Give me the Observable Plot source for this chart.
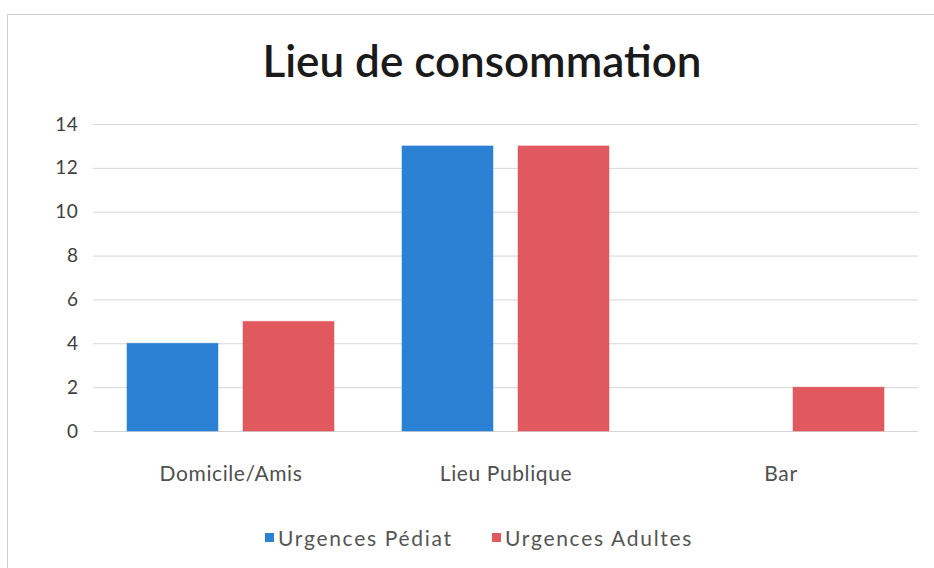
<!DOCTYPE html>
<html>
<head>
<meta charset="utf-8">
<script src="https://cdn.jsdelivr.net/npm/d3@7"></script>
<script src="https://cdn.jsdelivr.net/npm/@observablehq/plot@0.6"></script>
<style>
  html, body { margin: 0; padding: 0; background: #ffffff; }
  body { position: relative; width: 934px; height: 568px; overflow: hidden; font-family: Lato, "Open Sans", sans-serif; }
  #frame { position: absolute; left: 7px; top: 14px; width: 940px; height: 600px; border-left: 1px solid #cfcfcf; border-top: 1px solid #cfcfcf; }
  #title { position: absolute; left: 0; width: 964px; top: 38px; text-align: center; font-size: 44px; font-weight: 600; color: #1a1a1a; line-height: 1; }
  #chart { position: absolute; left: 0; top: 100px; }
  #legend { position: absolute; top: 525px; left: 0; width: 934px; height: 30px; font-size: 21px; color: #555555; letter-spacing: 1.7px; }
  #legend .item { position: absolute; top: 0; display: flex; align-items: center; white-space: nowrap; }
  #legend .sw { width: 9px; height: 9px; margin-right: 4px; }
  g[aria-label="category-labels"] text { letter-spacing: 2px; }
  svg { letter-spacing: 0.6px; }
</style>
</head>
<body>
<div id="frame"></div>
<div id="title">Lieu de consommation</div>
<div id="chart"></div>
<div id="legend"></div>
<script>
const categories = ["Domicile/Amis", "Lieu Publique", "Bar"];
const series = ["Urgences Pédiat", "Urgences Adultes"];
const pediat = [4, 13, 0];
const adultes = [5, 13, 2];
const yTicks = [0, 2, 4, 6, 8, 10, 12, 14];
const colors = ["#2b82d4", "#e0595e"];
const legendLeft = [265, 492];

const rows = [];
categories.forEach((c, i) => {
  rows.push({cat: c, series: series[0], value: pediat[i]});
  rows.push({cat: c, series: series[1], value: adultes[i]});
});

const chart = Plot.plot({
  width: 934,
  height: 410,
  marginLeft: 93,
  marginRight: 16,
  marginTop: 24,
  marginBottom: 79,
  style: {fontFamily: "Lato, 'Open Sans', sans-serif", fontSize: "19px", color: "#404040", background: "transparent", overflow: "visible"},
  fx: {domain: categories, padding: 0, axis: null},
  x: {domain: series, paddingInner: 0.2155, paddingOuter: 0.293, axis: null},
  y: {domain: [0, 14], ticks: yTicks, tickSize: 0, tickPadding: 15, label: null, tickFormat: d3.format("d")},
  color: {domain: series, range: colors},
  marks: [
    Plot.ruleY(yTicks, {stroke: "#d6d6d6", strokeWidth: 1}),
    Plot.barY(rows, {fx: "cat", x: "series", y: "value", fill: "series"}),
    Plot.barY(rows.filter(d => d.value > 0), {fx: "cat", x: "series", y: "value", fill: "none", stroke: "series", strokeWidth: 1, strokeOpacity: 0.5}),
    Plot.text(categories, {fx: d => d, text: d => d, frameAnchor: "bottom", dy: 49, fontSize: 21, fill: "#505050", ariaLabel: "category-labels"})
  ]
});
document.getElementById("chart").appendChild(chart);

const legend = document.getElementById("legend");
series.forEach((s, i) => {
  const item = document.createElement("div");
  item.className = "item";
  item.style.left = legendLeft[i] + "px";
  const sw = document.createElement("div");
  sw.className = "sw";
  sw.style.background = colors[i];
  const t = document.createElement("span");
  t.textContent = s;
  item.appendChild(sw);
  item.appendChild(t);
  legend.appendChild(item);
});
</script>
</body>
</html>
